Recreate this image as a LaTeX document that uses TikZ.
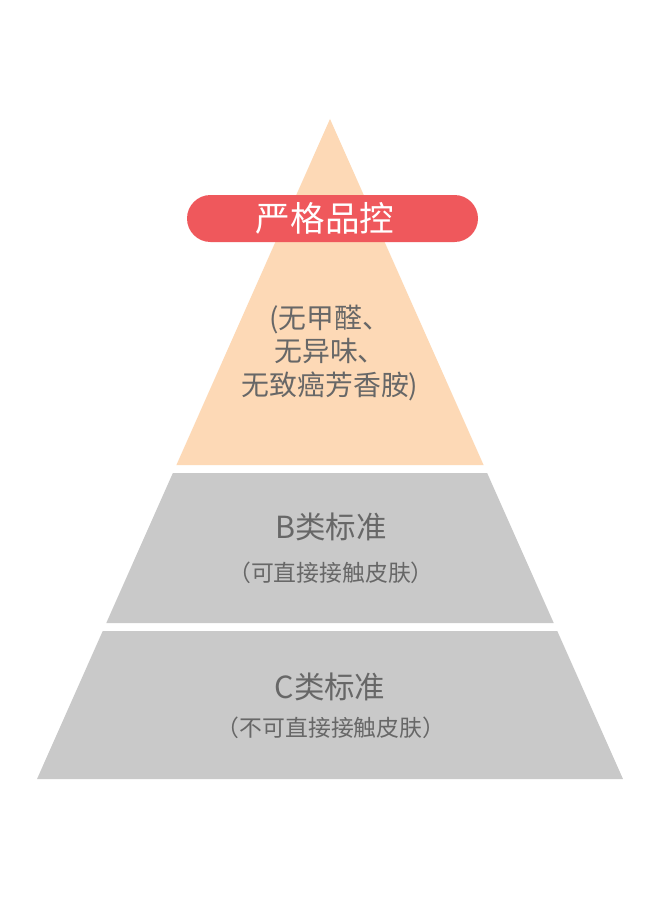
\documentclass[tikz,border=0pt]{standalone}
\usepackage{fontspec}
\newfontfamily\cjk{Noto Sans CJK SC}
\usetikzlibrary{positioning}
\definecolor{peach}{HTML}{FDD9B6}
\definecolor{ash}{HTML}{C9C9C9}
\definecolor{pillred}{HTML}{EF585C}
\definecolor{ink}{HTML}{676767}

\begin{document}
\begin{tikzpicture}[x=0.03cm,y=-0.03cm,
    every node/.style={font=\cjk, text=ink, inner sep=0pt},
    title/.style={font=\cjk\fontsize{26}{30}\selectfont},
    remark/.style={font=\cjk\fontsize{19.5}{24}\selectfont}]
    % canvas
    \useasboundingbox[fill=white] (0,0) rectangle (660,900);

    % pyramid bands: one triangle cut by white gaps
    \foreach \ya/\yb/\c in {119/465/peach,473/623/ash,631/779/ash} {
      \pgfmathsetmacro{\wa}{(\ya-119)*0.4439}
      \pgfmathsetmacro{\wb}{(\yb-119)*0.4439}
      \fill[\c] (330-\wa,\ya) -- (330+\wa,\ya) -- (330+\wb,\yb) -- (330-\wb,\yb) -- cycle;
    }

    % top: strict quality control
    \node[fill=pillred, rounded corners=23.5*0.03cm, minimum width=291*0.03cm,
          minimum height=47*0.03cm] (pill) at (332.5,218.5) {};
    \node[text=white, font=\cjk\fontsize{29.5}{34}\selectfont] (pilltext) at (325,218) {严格品控};
    \node[align=center, font=\cjk\fontsize{23.8}{28.9}\selectfont] (freeof) at (330,353)
      {(无甲醛、\\无异味、\\无致癌芳香胺)};

    % B class
    \node[title] (btitle) at (331,527) {B类标准};
    \node[remark] (bnote) at (331,573) {（可直接接触皮肤）};

    % C class
    \node[title] (ctitle) at (330,687) {C类标准};
    \node[remark] (cnote) at (331,728) {（不可直接接触皮肤）};
\end{tikzpicture}
\end{document}
